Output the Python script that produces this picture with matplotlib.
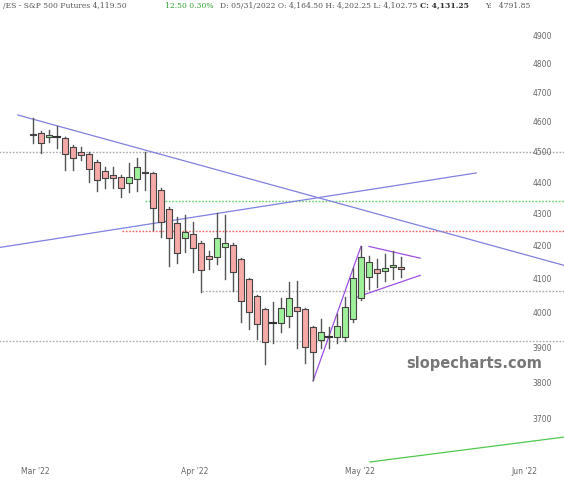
import matplotlib.pyplot as plt
import numpy as np

# daily candles (Mar..May 2022)
opens = [4560, 4564, 4551, 4551, 4548, 4518, 4501, 4495, 4469, 4440, 4427, 4420, 4401, 4414, 4436, 4433,
         4379, 4319, 4275, 4228, 4238, 4213, 4171, 4168, 4198, 4204, 4162, 4101, 4051, 4012, 3971, 3971,
         3992, 4018, 4012, 3959, 3924, 3933, 3933, 3933, 3983, 4045, 4107, 4131, 4125, 4137, 4137]
highs = [4615, 4570, 4574, 4588, 4552, 4525, 4518, 4500, 4475, 4452, 4452, 4425, 4465, 4482, 4501, 4436,
         4385, 4325, 4293, 4300, 4278, 4218, 4186, 4306, 4300, 4210, 4165, 4105, 4055, 4015, 4033, 4045,
         4092, 4095, 4015, 3962, 3983, 3959, 3997, 4048, 4134, 4201, 4171, 4162, 4177, 4186, 4168]
lows = [4531, 4498, 4534, 4514, 4443, 4443, 4475, 4404, 4375, 4385, 4385, 4356, 4372, 4375, 4379, 4253,
        4230, 4140, 4149, 4183, 4122, 4062, 4131, 4146, 4101, 4065, 3974, 3954, 3927, 3855, 3915, 3945,
        3959, 3901, 3858, 3810, 3901, 3901, 3915, 3920, 3975, 4040, 4071, 4077, 4095, 4101, 4107]
closes = [4557, 4531, 4557, 4550, 4495, 4482, 4491, 4446, 4411, 4417, 4417, 4385, 4420, 4452, 4433, 4322,
          4278, 4228, 4180, 4247, 4195, 4128, 4162, 4228, 4210, 4122, 4036, 4003, 3968, 3918, 3970, 4015,
          4045, 4006, 3904, 3890, 3945, 3933, 3962, 4018, 4104, 4168, 4152, 4119, 4134, 4143, 4131]

# trend lines (bar index, price)
lines = [
    ((-1.9, 66.4), (4625, 4143), '#8080e0'),
    ((-4.1, 55.4), (4198, 4433), '#8080e0'),
    ((35.0, 41.0), (3807, 4201), '#a050e0'),
    ((42.0, 48.4), (4201, 4165), '#a050e0'),
    ((40.1, 48.4), (4045, 4113), '#a050e0'),
    ((42.1, 66.4), (3588, 3654), '#50c850'),
]
# horizontal levels (start index, price, colour)
levels = [(-4.2, 4500, '#aaaaaa'), (14.0, 4343, '#60d060'), (11.1, 4249, '#f06060'),
          (21.1, 4066, '#aaaaaa'), (-4.2, 3920, '#aaaaaa')]

price_ticks = [3700, 3800, 3900, 4000, 4100, 4200, 4300, 4400, 4500, 4600, 4700, 4800, 4900]
month_labels = ["Mar '22", "Apr '22", "May '22", "Jun '22"]
month_pos = [0.25, 20.25, 40.9, 61.4]

fig = plt.figure(figsize=(5.64, 4.8), dpi=100)
ax = fig.add_axes([0, 0, 1, 1])
ax.set_yscale('log')
ax.set_xlim(-4.125, 66.375)
ax.set_ylim(3541, 5031)
ax.axis('off')

for x0, p, c in levels:
    ax.plot([x0, 66.4], [p, p], color=c, lw=1.0, ls=(0, (1.2, 1.2)))

for xs, ys, c in lines:
    ax.plot(xs, ys, color=c, lw=0.9)

for i, (o, h, l, c) in enumerate(zip(opens, highs, lows, closes)):
    ax.plot([i, i], [l, h], color='#555555', lw=1.0, zorder=3)
    if abs(c - o) < 3:
        ax.plot([i - 0.4, i + 0.4], [o, o], color='#333333', lw=1.5, zorder=4)
        continue
    fc = '#9ef09a' if c > o else '#f6aaa8'
    lo, hi = min(o, c), max(o, c)
    ax.fill_between([i - 0.4, i + 0.4], [lo, lo], [hi, hi], facecolor=fc,
                    edgecolor='#444444', lw=0.8, zorder=4)

for p in price_ticks:
    ax.text(62.4, p, str(p), fontsize=5.5, color='#666666', va='center', ha='left')
for lab, x in zip(month_labels, month_pos):
    ax.text(x, 3562, lab, fontsize=5.5, color='#666666', ha='center', va='center')

ax.text(55.1, 3855, 'slopecharts.com', fontsize=10.5, fontweight='bold', color='#777777',
        ha='center', va='center')

fig.text(0.005, 0.988, '/ES - S&P 500 Futures 4,119.50 ', fontsize=5.5, color='#555555',
         va='center', family='DejaVu Serif')
fig.text(0.293, 0.988, '12.50 0.30%', fontsize=5.5, color='#30a030', va='center', family='DejaVu Serif')
fig.text(0.39, 0.988, 'D: 05/31/2022 O: 4,164.50 H: 4,202.25 L: 4,102.75', fontsize=5.5,
         color='#555555', va='center', family='DejaVu Serif')
fig.text(0.745, 0.988, 'C: 4,131.25', fontsize=5.5, color='#333333', fontweight='bold',
         va='center', family='DejaVu Serif')
fig.text(0.86, 0.988, 'Y:   4791.85', fontsize=5.5, color='#555555', va='center', family='DejaVu Serif')

fig.savefig('out.png', dpi=100)
